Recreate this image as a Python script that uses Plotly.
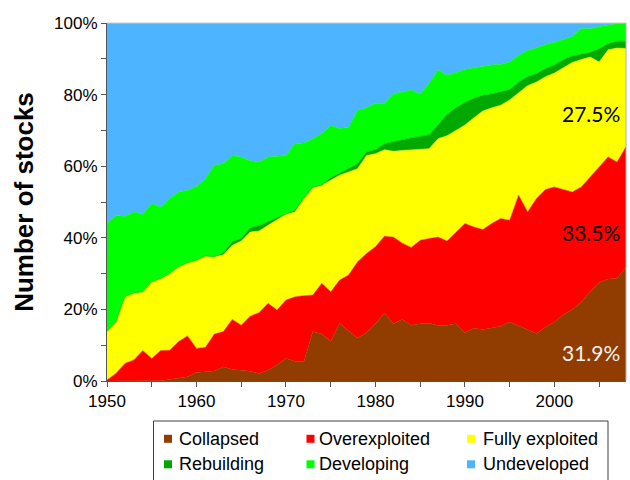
import plotly.graph_objects as go

years = list(range(1950, 2009))

collapsed = [0, 0, 0, 0, 0, 0, 0.1, 0.4, 0.8, 1.2,
             2.4, 2.6, 2.8, 4.0, 3.2, 3.0, 2.7, 2.1, 3.0, 4.5,
             6.3, 5.5, 5.4, 13.8, 13.1, 11.0, 16.1, 14.0, 12.0, 13.5,
             16.0, 18.9, 16.0, 17.2, 15.6, 16.0, 16.1, 15.5, 15.6, 16.0,
             13.5, 14.7, 14.4, 14.8, 15.3, 16.5, 15.5, 14.5, 13.3, 15.0,
             16.5, 18.5, 20.0, 22.0, 25.0, 27.5, 28.5, 28.6, 31.9]

overexploited = [0.3, 2.1, 4.9, 5.9, 8.5, 6.3, 8.4, 8.2, 10.2, 11.4,
                 6.7, 6.8, 10.3, 9.8, 14.0, 12.6, 15.4, 17.0, 18.7, 15.3,
                 16.3, 18.0, 18.4, 10.2, 14.2, 13.9, 12.1, 15.6, 21.3, 22.1,
                 21.5, 21.5, 24.2, 21.3, 21.7, 23.3, 23.7, 24.7, 23.5, 25.5,
                 30.5, 28.3, 27.9, 29.2, 30.1, 28.4, 36.4, 32.7, 37.7, 38.5,
                 37.7, 35.0, 32.8, 32.2, 32.0, 32.5, 34.1, 32.6, 33.5]

fully_exploited = [13.5, 14.4, 18.6, 18.7, 16.4, 21.4, 20.1, 21.4, 20.9, 20.4,
                   24.6, 25.5, 21.6, 21.5, 20.7, 23.5, 23.5, 22.8, 21.8, 25.2,
                   24.0, 23.7, 27.2, 30.0, 27.4, 31.2, 29.3, 28.8, 26.0, 27.4,
                   26.0, 24.2, 24.0, 25.9, 27.3, 25.4, 25.1, 27.5, 29.4, 28.5,
                   27.5, 30.5, 33.1, 32.3, 31.6, 33.6, 28.6, 35.3, 32.5, 31.5,
                   31.8, 34.0, 36.2, 35.6, 33.5, 29.1, 29.9, 31.8, 27.5]

rebuilding = [0, 0, 0, 0, 0, 0, 0, 0, 0, 0,
              0, 0, 0, 0.5, 1.0, 0.7, 1.2, 1.5, 1.0, 0.5,
              0, 0.5, 0, 0.2, 0, 0.7, 0.5, 0.9, 1.4, 1.0,
              1.1, 1.7, 2.7, 3.0, 3.3, 3.6, 3.9, 3.8, 6.0, 6.3,
              6.3, 5.5, 4.4, 3.9, 3.7, 2.9, 3.0, 2.5, 2.3, 2.3,
              2.3, 2.2, 1.8, 1.6, 1.3, 3.7, 1.7, 1.9, 2.0]

developing = [30.2, 29.7, 22.5, 22.6, 21.7, 21.9, 20.0, 21.0, 20.9, 20.3,
              20.6, 21.6, 25.6, 24.9, 24.0, 22.8, 18.7, 17.8, 18.1, 17.4,
              16.4, 18.6, 15.5, 13.5, 14.4, 14.6, 12.5, 11.6, 14.9, 12.3,
              13.0, 11.3, 13.3, 13.3, 13.4, 11.9, 14.4, 15.4, 10.9, 9.9,
              9.2, 8.5, 8.2, 8.1, 7.8, 7.7, 7.5, 7.3, 7.3, 6.7,
              6.3, 5.6, 5.4, 7.1, 6.6, 6.2, 5.3, 4.9, 5.1]

undeveloped = [56.0, 53.8, 54.0, 52.8, 53.4, 50.4, 51.4, 49.0, 47.2, 46.7,
               45.7, 43.5, 39.7, 39.3, 37.1, 37.4, 38.5, 38.8, 37.4, 37.1,
               37.0, 33.7, 33.5, 32.3, 30.9, 28.6, 29.5, 29.1, 24.4, 23.7,
               22.4, 22.4, 19.8, 19.3, 18.7, 19.8, 16.8, 13.1, 14.6, 13.8,
               13.0, 12.5, 12.0, 11.7, 11.5, 10.9, 9.0, 7.7, 6.9, 6.0,
               5.4, 4.7, 3.8, 1.5, 1.6, 1.0, 0.5, 0.2, 0.0]

series_names = ["Collapsed", "Overexploited", "Fully exploited",
                "Rebuilding", "Developing", "Undeveloped"]
series_values = [collapsed, overexploited, fully_exploited,
                 rebuilding, developing, undeveloped]
series_colors = ["#913C00", "#FF0000", "#FFFF00",
                 "#00A800", "#00FF00", "#4DB4FF"]

final_labels = ["31.9%", "33.5%", "27.5%"]
final_label_y = [8.1, 41.6, 74.8]
final_label_colors = ["#F2F2F2", "#000000", "#000000"]

W, H = 630, 480
ML, MR, MT, MB = 107, 4, 23, 99
PW, PH = W - ML - MR, H - MT - MB


def px_x(p):
    return (p - ML) / PW


def px_y(p):
    return (H - MB - p) / PH


fig = go.Figure()

for name, vals, col in zip(series_names, series_values, series_colors):
    fig.add_trace(go.Scatter(
        x=years, y=vals, name=name, stackgroup="one", groupnorm="percent",
        mode="lines", line=dict(width=0.5, color=col), fillcolor=col,
        showlegend=False,
    ))

for txt, yv, col in zip(final_labels, final_label_y, final_label_colors):
    fig.add_annotation(
        x=2008, y=yv, xref="x", yref="y", text=txt, showarrow=False,
        xanchor="right", yanchor="middle", xshift=-4,
        font=dict(family="Lato, Open Sans, sans-serif", size=21, color=col),
    )

# legend box (3 columns x 2 rows), drawn in paper coordinates
legend_font = dict(family="Arial, Liberation Sans, sans-serif", size=18, color="#000000")
fig.add_shape(type="rect", xref="paper", yref="paper",
              x0=px_x(153.5), x1=px_x(608), y0=px_y(421), y1=px_y(492),
              line=dict(color="#404040", width=1), fillcolor="white", layer="above")
col_square_x = [164, 306.5, 467]
col_text_x = [177, 316.5, 480.5]
row_y = [438.8, 464.3]
for i, (name, col) in enumerate(zip(series_names, series_colors)):
    r, c = divmod(i, 3)
    sx, tx, cy = col_square_x[c], col_text_x[c], row_y[r]
    fig.add_shape(type="rect", xref="paper", yref="paper",
                  x0=px_x(sx), x1=px_x(sx + 8), y0=px_y(cy - 4), y1=px_y(cy + 4),
                  line=dict(width=0), fillcolor=col, layer="above")
    fig.add_annotation(x=px_x(tx), y=px_y(cy), xref="paper", yref="paper",
                       text=name, showarrow=False, xanchor="left", yanchor="middle",
                       font=legend_font)

axis_font = dict(family="Arial, Liberation Sans, sans-serif", size=17, color="#000000")

fig.update_layout(
    width=W, height=H,
    margin=dict(l=ML, r=MR, t=MT, b=MB),
    paper_bgcolor="white", plot_bgcolor="white",
    font=axis_font,
    showlegend=False,
    xaxis=dict(
        range=[1950, 2008], tick0=1950, dtick=10, showgrid=False, zeroline=False,
        ticks="outside", ticklen=5, tickcolor="#555555",
        showline=True, linecolor="#555555", linewidth=1,
        minor=dict(dtick=5, tick0=1950, ticks="outside", ticklen=5, tickcolor="#555555", showgrid=False),
        tickfont=axis_font,
    ),
    yaxis=dict(
        range=[0, 100], tick0=0, dtick=20, ticksuffix="%", showgrid=False, zeroline=False,
        ticks="outside", ticklen=5, tickcolor="#555555",
        showline=True, linecolor="#555555", linewidth=1,
        minor=dict(dtick=10, ticks="outside", ticklen=5, tickcolor="#555555", showgrid=False),
        tickfont=axis_font,
        title=dict(text="<b>Number of stocks</b>", standoff=13,
                   font=dict(family="Arial, Liberation Sans, sans-serif", size=26, color="#000000")),
    ),
)

fig.add_shape(type="line", xref="paper", yref="paper", x0=0, x1=1, y0=1, y1=1,
              line=dict(color="#C8C8C8", width=1), layer="above")
fig.add_shape(type="line", xref="paper", yref="paper", x0=1, x1=1, y0=0, y1=1,
              line=dict(color="#B0B0B0", width=1), layer="above")

fig.write_html("out.html", config={"displayModeBar": False},
               post_script="document.body.style.margin='0';")
